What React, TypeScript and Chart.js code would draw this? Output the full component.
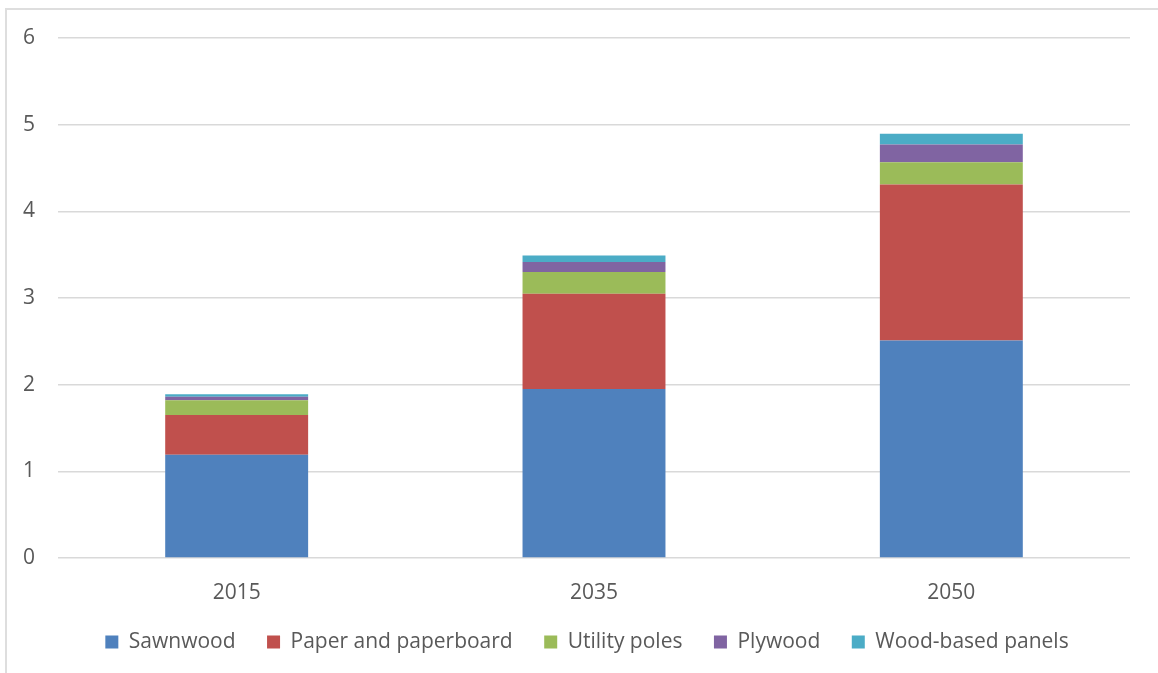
import { useEffect, useRef } from "react";
import { Chart, registerables } from "chart.js";

Chart.register(...registerables);

// Consumption by product, per year
const years = ["2015", "2035", "2050"];
const sawnwood = [1.19, 1.95, 2.51];
const paperAndPaperboard = [0.46, 1.1, 1.8];
const utilityPoles = [0.17, 0.25, 0.255];
const plywood = [0.04, 0.115, 0.205];
const woodBasedPanels = [0.03, 0.075, 0.125];

const seriesNames = ["Sawnwood", "Paper and paperboard", "Utility poles", "Plywood", "Wood-based panels"];
const seriesColors = ["#4F81BD", "#C0504D", "#9BBB59", "#8064A2", "#4BACC6"];

const yMin = 0;
const yMax = 6;
const yStep = 1;

const FONT = "'Open Sans', 'DejaVu Sans', sans-serif";
const TEXT_COLOR = "#595959";
const GRID_COLOR = "#d9d9d9";

// Nudges the bottom legend to the right so it sits under the plot rather than the full canvas
const legendOffset = {
  id: "legendOffset",
  afterLayout(chart: any) {
    const lg = chart.legend;
    if (!lg) return;
    const shift = 11;
    lg.left += shift;
    lg.right += shift;
  },
};

export default function App() {
  const canvasRef = useRef<HTMLCanvasElement | null>(null);

  useEffect(() => {
    document.body.style.margin = "0";
    const canvas = canvasRef.current;
    if (!canvas) return;

    const values = [sawnwood, paperAndPaperboard, utilityPoles, plywood, woodBasedPanels];

    const chart = new Chart(canvas, {
      type: "bar",
      data: {
        labels: years,
        datasets: values.map((data, i) => ({
          label: seriesNames[i],
          data,
          backgroundColor: seriesColors[i],
          borderWidth: 0,
          barPercentage: 0.4,
          categoryPercentage: 1,
        })),
      },
      plugins: [legendOffset],
      options: {
        responsive: false,
        animation: false,
        devicePixelRatio: 1,
        layout: { padding: { left: 22, right: 28, top: 38, bottom: 10.5 } },
        plugins: {
          tooltip: { enabled: false },
          legend: {
            position: "bottom",
            labels: {
              boxWidth: 13,
              boxHeight: 13,
              padding: 31.5,
              color: TEXT_COLOR,
              font: { family: FONT, size: 21 },
            },
          },
        },
        scales: {
          x: {
            stacked: true,
            grid: { display: false },
            border: { display: false },
            ticks: {
              color: TEXT_COLOR,
              font: { family: FONT, size: 21 },
              padding: 14,
              maxRotation: 0,
            },
            afterFit: (scale: any) => {
              scale.height = 42;
            },
          },
          y: {
            stacked: true,
            min: yMin,
            max: yMax,
            grid: { color: GRID_COLOR, lineWidth: 1.5, drawTicks: false },
            border: { display: false },
            ticks: {
              stepSize: yStep,
              color: TEXT_COLOR,
              font: { family: FONT, size: 21 },
              padding: 23,
            },
            afterFit: (scale: any) => {
              scale.width = 36;
            },
          },
        },
      },
    });

    return () => chart.destroy();
  }, []);

  return (
    <div style={{ position: "relative", width: 1158, height: 673, overflow: "hidden", background: "#fff" }}>
      <canvas ref={canvasRef} width={1158} height={673} style={{ position: "absolute", left: 0, top: 0 }} />
      <div
        style={{
          position: "absolute",
          left: 5,
          top: 8,
          width: 1200,
          height: 720,
          border: "2px solid #dedede",
          pointerEvents: "none",
        }}
      />
    </div>
  );
}
